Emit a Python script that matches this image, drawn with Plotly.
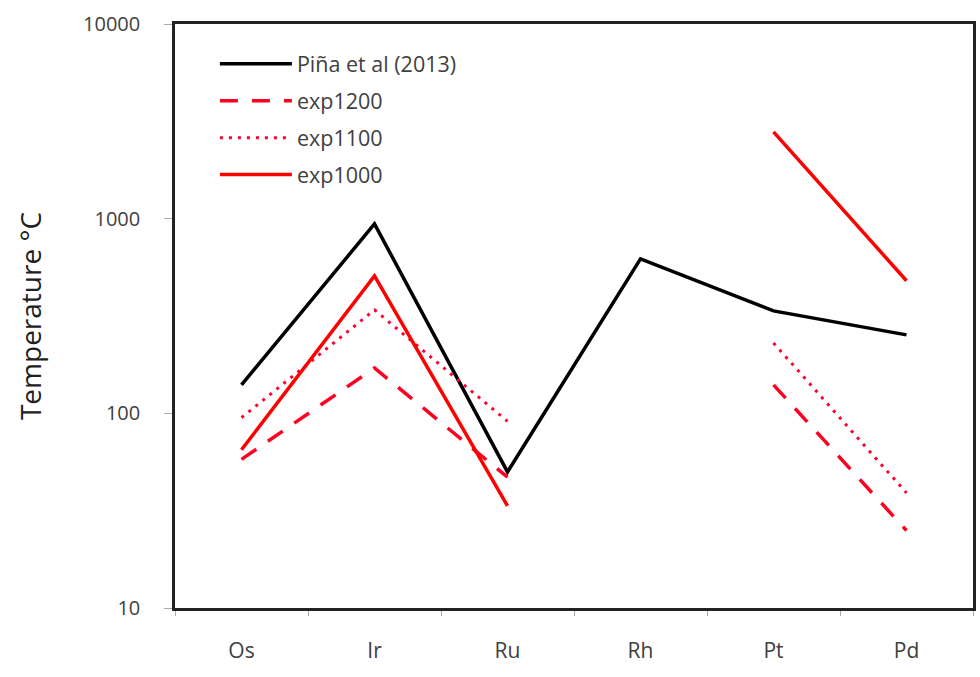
import plotly.graph_objects as go

categories = ["Os", "Ir", "Ru", "Rh", "Pt", "Pd"]
pina_2013 = [140, 940, 50, 621, 336, 253]
exp1200 = [58, 171, 47, None, 140, 25]
exp1100 = [95, 340, 91, None, 230, 39]
exp1000 = [65, 508, 33.5, None, 2790, 480]

fig = go.Figure()
fig.add_trace(go.Scatter(x=categories, y=pina_2013, mode="lines", name="Piña et al (2013)",
                         line=dict(color="black", width=3.5), legendgroup="a"))
fig.add_trace(go.Scatter(x=categories, y=exp1200, mode="lines", name="exp1200",
                         line=dict(color="#ff0022", width=3.5, dash="18px,14px"), legendgroup="b"))
fig.add_trace(go.Scatter(x=categories, y=exp1100, mode="lines", name="exp1100",
                         line=dict(color="#ff0033", width=3, dash="3px,6px"), legendgroup="c"))
fig.add_trace(go.Scatter(x=categories, y=exp1000, mode="lines", name="exp1000",
                         line=dict(color="#ff0000", width=3.5), legendgroup="d"))

fig.update_layout(
    width=980, height=677,
    margin=dict(l=175, r=4, t=24, b=69),
    paper_bgcolor="white", plot_bgcolor="white",
    font=dict(family="Open Sans, Liberation Sans, sans-serif", color="#404040", size=20),
    showlegend=True,
    legend=dict(x=0.05, y=0.967, xanchor="left", yanchor="top",
                bgcolor="rgba(0,0,0,0)", font=dict(size=21.5, color="#404040"),
                traceorder="grouped", tracegroupgap=6, itemwidth=72),
    xaxis=dict(showline=True, linecolor="#222", linewidth=2.5, mirror=True,
               showgrid=False, ticks="outside", ticklen=5, tickcolor="#aaa",
               tickson="boundaries", tickfont=dict(size=21, color="#404040"),
               ticklabelstandoff=22, range=[-0.5, 5.5]),
    yaxis=dict(type="log", range=[1, 4], showline=True, linecolor="#222", linewidth=2.5,
               mirror=True, showgrid=False, ticks="outside", ticklen=8, tickcolor="#aaa",
               tickvals=[10, 100, 1000, 10000], ticktext=["10", "100", "1000", "10000"],
               tickfont=dict(size=20, color="#404040"), ticklabelstandoff=20,
               title=dict(text="Temperature °C", font=dict(size=28, color="#202020"), standoff=34)),
)

fig.write_html("out.html", config={"displayModeBar": False},
               post_script="document.body.style.margin='0';document.body.style.overflow='hidden';")
